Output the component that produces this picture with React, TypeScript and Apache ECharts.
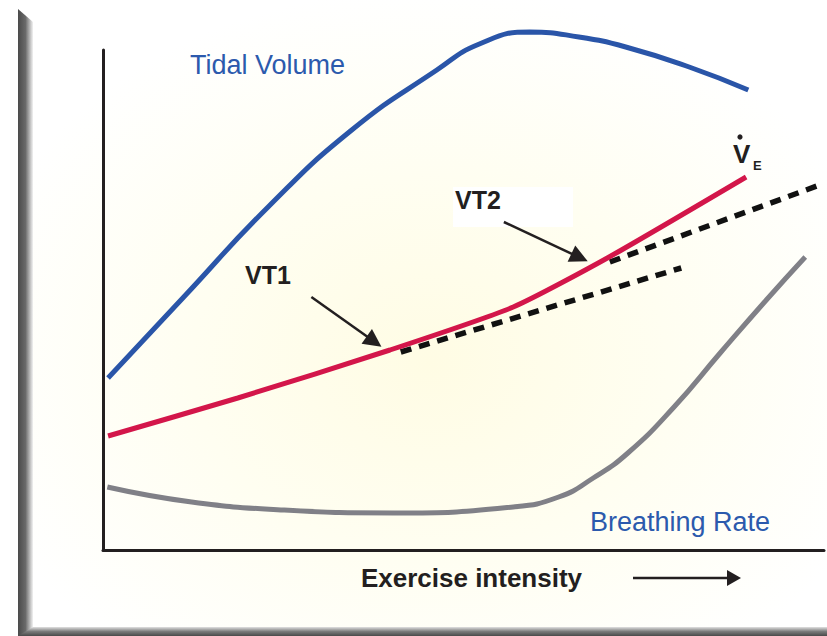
import React, { useEffect, useRef } from "react";
import * as echarts from "echarts";

// x: exercise intensity (0-100), y: relative response (0-100)
const tidalVolume: [number, number][] = [
  [0.7, 34.4], [11.2, 50.6], [22.9, 68.6], [34.5, 84], [46.3, 96], [52.2, 101.2],
  [59.2, 103.6], [66, 102.6], [72.5, 100.6], [81.3, 96.6], [89.5, 92],
];
const ventilation: [number, number][] = [
  [0.7, 22.8], [18.7, 30.4], [39.8, 40], [56.9, 48.6], [70.2, 58.6], [89.2, 74.6],
];
const breathingRate: [number, number][] = [
  [0.6, 12.6], [12.3, 9.6], [25.1, 8], [40.4, 7.4], [56.9, 8.6], [63.2, 10.6],
  [68, 14.4], [72.8, 19.4], [79.2, 28.6], [85.6, 39.4], [92, 50], [97.4, 58.6],
];
const vt1Extension: [number, number][] = [[41.3, 39.6], [80.2, 56.4]];
const vt2Extension: [number, number][] = [[70.3, 57.6], [99.4, 73]];
const vt1Arrow: [number, number][] = [[28.9, 50.6], [37.6, 41.7]];
const vt2Arrow: [number, number][] = [[55.6, 65.6], [66.1, 58.5]];

const FONT = "'Liberation Sans', Arial, Helvetica, sans-serif";
const DARK = "#231f20";

export default function App() {
  const ref = useRef<HTMLDivElement>(null);
  useEffect(() => {
    if (!ref.current) return;
    const chart = echarts.init(ref.current, null, { renderer: "svg" });
    const lineBase = { type: "line", showSymbol: false, symbol: "none", clip: false, silent: true };
    chart.setOption({
      animation: false,
      backgroundColor: "#ffffff",
      grid: { left: 103, right: 3, top: 50, bottom: 86 },
      xAxis: {
        type: "value", min: 0, max: 100,
        axisLine: { show: true, lineStyle: { color: DARK, width: 3 } },
        axisTick: { show: false }, axisLabel: { show: false }, splitLine: { show: false },
        name: "Exercise intensity", nameLocation: "middle", nameGap: 15,
        nameTextStyle: { fontSize: 26, fontWeight: "bold", color: DARK, fontFamily: FONT, padding: [0, 0, 0, 16] },
      },
      yAxis: {
        type: "value", min: 0, max: 100,
        axisLine: { show: true, lineStyle: { color: DARK, width: 3 } },
        axisTick: { show: false }, axisLabel: { show: false }, splitLine: { show: false },
      },
      graphic: [
        {
          type: "rect", z: -100, silent: true,
          shape: { x: 33, y: 0, width: 794, height: 627 },
          style: {
            fill: new echarts.graphic.RadialGradient(0.5, 0.58, 0.6, [
              { offset: 0, color: "#fffce4" },
              { offset: 0.5, color: "#fffef1" },
              { offset: 1, color: "#ffffff" },
            ]),
          },
        },
        {
          type: "rect", z: -50, silent: true,
          shape: { x: 453, y: 187, width: 120, height: 40 },
          style: { fill: "#ffffff" },
        },
        {
          type: "polygon", silent: true,
          shape: { points: [[18, 9], [33, 22], [33, 636], [18, 636]] },
          style: {
            fill: new echarts.graphic.LinearGradient(0, 0, 1, 0, [
              { offset: 0, color: "#4a4a4a" },
              { offset: 0.5, color: "#6a6a6a" },
              { offset: 1, color: "#f2f2f2" },
            ]),
          },
        },
        {
          type: "polygon", silent: true,
          shape: { points: [[33, 627], [827, 627], [827, 636], [18, 636]] },
          style: {
            fill: new echarts.graphic.LinearGradient(0, 0, 0, 1, [
              { offset: 0, color: "#e0e0e0" },
              { offset: 0.5, color: "#7a7a7a" },
              { offset: 1, color: "#4a4a4a" },
            ]),
          },
        },
        {
          type: "text", left: 190, top: 51,
          style: { text: "Tidal Volume", fill: "#2c5aad", font: `27px ${FONT}` },
        },
        {
          type: "text", left: 590, top: 508,
          style: { text: "Breathing Rate", fill: "#2c5aad", font: `27px ${FONT}` },
        },
        {
          type: "text", left: 245, top: 262,
          style: { text: "VT1", fill: DARK, font: `bold 25px ${FONT}` },
        },
        {
          type: "text", left: 455, top: 187,
          style: { text: "VT2", fill: DARK, font: `bold 25px ${FONT}` },
        },
        {
          type: "text", left: 733, top: 141,
          style: { text: "V", fill: DARK, font: `bold 26px ${FONT}` },
        },
        {
          type: "circle", silent: true,
          shape: { cx: 740, cy: 137, r: 2.6 },
          style: { fill: DARK },
        },
        {
          type: "text", left: 753, top: 159,
          style: { text: "E", fill: DARK, font: `bold 13px ${FONT}` },
        },
        {
          type: "line", silent: true,
          shape: { x1: 633, y1: 578, x2: 730, y2: 578 },
          style: { stroke: DARK, lineWidth: 2.5 },
        },
        {
          type: "polygon", silent: true,
          shape: { points: [[727, 570], [741, 578], [727, 586]] },
          style: { fill: DARK },
        },
      ],
      series: [
        {
          ...lineBase, name: "Tidal Volume", data: tidalVolume, smooth: 0.5,
          lineStyle: { color: "#2a55a8", width: 5 },
        },
        {
          ...lineBase, name: "VE", data: ventilation, smooth: 0.2,
          lineStyle: { color: "#d3164a", width: 5 },
        },
        {
          ...lineBase, name: "Breathing Rate", data: breathingRate, smooth: 0.5,
          lineStyle: { color: "#808087", width: 5 },
        },
        {
          ...lineBase, name: "VT1 extension", data: vt1Extension, z: 1,
          lineStyle: { color: "#111111", width: 5.5, type: [11, 8] },
        },
        {
          ...lineBase, name: "VT2 extension", data: vt2Extension, z: 1,
          lineStyle: { color: "#111111", width: 5.5, type: [11, 8] },
        },
        {
          type: "lines", coordinateSystem: "cartesian2d", silent: true,
          symbol: ["none", "triangle"], symbolSize: [17, 18],
          lineStyle: { color: DARK, width: 2.5, opacity: 1 },
          data: [{ coords: vt1Arrow }, { coords: vt2Arrow }],
        },
      ],
    });
    return () => chart.dispose();
  }, []);
  return (
    <div
      ref={ref}
      style={{ position: "fixed", left: 0, top: 0, width: 827, height: 636 }}
    />
  );
}
